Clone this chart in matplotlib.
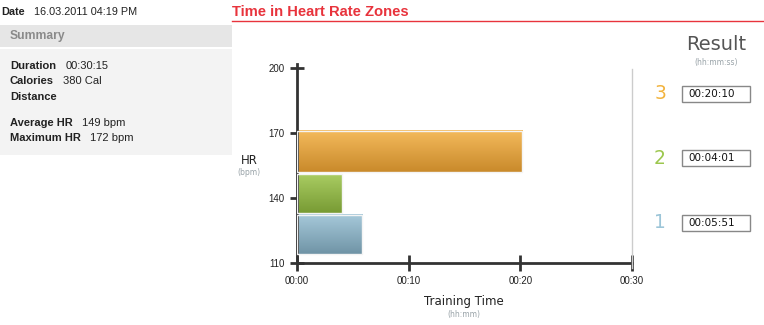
import matplotlib.pyplot as plt
import numpy as np
from matplotlib.patches import Rectangle

# workout summary
session_date = "16.03.2011 04:19 PM"
summary_rows = [("Duration", "00:30:15"), ("Calories", "380 Cal"), ("Distance", "")]
hr_rows = [("Average HR", "149 bpm"), ("Maximum HR", "172 bpm")]

# heart rate zones (bpm bands) and time spent in each
zones = ["1", "2", "3"]
zone_low = [114, 133, 152]
zone_high = [132, 151, 171]
zone_seconds = [351, 241, 1210]
zone_top = ["#a6c9da", "#a9cc62", "#f4ba5c"]
zone_bottom = ["#7094a6", "#789b34", "#c98a2b"]
zone_digit = ["#9cc5d8", "#9cc74e", "#f2b33d"]

y_ticks = [110, 140, 170, 200]
x_ticks_min = [0, 10, 20, 30]

W, H = 764, 325
fig = plt.figure(figsize=(W / 100, H / 100), dpi=100)
fig.patch.set_facecolor("white")


def fx(px):
    return px / W


def fy(py):
    return 1 - py / H


sans = "Liberation Sans"
dark = "#222222"

# left summary panel
fig.patches.append(Rectangle((0, fy(47)), fx(232), (47 - 25) / H, transform=fig.transFigure,
                             facecolor="#e6e6e6", edgecolor="none"))
fig.patches.append(Rectangle((0, fy(155)), fx(232), (155 - 49) / H, transform=fig.transFigure,
                             facecolor="#f3f3f3", edgecolor="none"))
fig.text(fx(1), fy(12), "Date", family=sans, weight="bold", fontsize=7.8, color=dark, va="center")
fig.text(fx(34), fy(12), session_date, family=sans, fontsize=7.8, color=dark, va="center")
fig.text(fx(10), fy(36), "Summary", family=sans, weight="bold", fontsize=8.7, color="#8a8a8a", va="center")

for i, (k, v) in enumerate(summary_rows):
    y = fy(66 + i * 15.3)
    fig.text(fx(10), y, k, family=sans, weight="bold", fontsize=8, color=dark, va="center")
    if v:
        off = 66 if k == "Duration" else 63
        fig.text(fx(off), y, v, family=sans, fontsize=8, color=dark, va="center")
hr_off = [82, 90]
for i, (k, v) in enumerate(hr_rows):
    y = fy(123 + i * 15)
    fig.text(fx(10), y, k, family=sans, weight="bold", fontsize=8, color=dark, va="center")
    fig.text(fx(hr_off[i]), y, v, family=sans, fontsize=8, color=dark, va="center")

# title with underline
fig.text(fx(232), fy(12), "Time in Heart Rate Zones", family=sans, weight="bold",
         fontsize=10.6, color="#e8333c", va="center")
fig.lines.append(plt.Line2D([fx(232), 1], [fy(21), fy(21)], transform=fig.transFigure,
                            color="#e8333c", lw=1))

# chart area
ax = fig.add_axes([fx(297), fy(263), fx(632) - fx(297), (263 - 68) / H])
minutes = np.array(zone_seconds) / 60.0
grad = np.linspace(0, 1, 64).reshape(-1, 1)
for i in range(len(zones)):
    c0 = np.array(plt.matplotlib.colors.to_rgb(zone_top[i]))
    c1 = np.array(plt.matplotlib.colors.to_rgb(zone_bottom[i]))
    img = (c0[None, None, :] * (1 - grad[:, :, None]) + c1[None, None, :] * grad[:, :, None])
    ax.imshow(img, extent=[0, minutes[i], zone_low[i], zone_high[i]], origin="upper",
              aspect="auto", zorder=2)
    ax.add_patch(Rectangle((0, zone_low[i]), minutes[i], zone_high[i] - zone_low[i],
                           facecolor="none", edgecolor="#f4f4f4", lw=1, zorder=3))
ax.set_xlim(0, 30)
ax.set_ylim(110, 200)

for s in ["top", "right"]:
    ax.spines[s].set_visible(False)
ax.spines["left"].set_color("#333333")
ax.spines["bottom"].set_color("#333333")
ax.spines["left"].set_linewidth(2)
ax.spines["bottom"].set_linewidth(2)
ax.spines["left"].set_bounds(110, 202)
ax.set_yticks(y_ticks)
ax.set_yticklabels([str(t) for t in y_ticks], family=sans, fontsize=7, color=dark)
ax.set_xticks(x_ticks_min)
ax.set_xticklabels([f"00:{m:02d}" for m in x_ticks_min], family=sans, fontsize=7, color=dark)
ax.tick_params(axis="y", direction="inout", length=10, width=2, color="#333333", pad=4)
ax.tick_params(axis="x", direction="inout", length=12, width=2, color="#333333", pad=3)
ax.patch.set_alpha(0)

fig.text(fx(249), fy(160), "HR", fontsize=8.5, color=dark, ha="center", va="center")
fig.text(fx(249), fy(173), "(bpm)", fontsize=5.5, color="#99a3a8", ha="center", va="center")
fig.text(fx(464), fy(302), "Training Time", fontsize=8.5, color=dark, ha="center", va="center")
fig.text(fx(464), fy(315), "(hh:mm)", fontsize=5.5, color="#99a3a8", ha="center", va="center")

# separator and result column
fig.lines.append(plt.Line2D([fx(632), fx(632)], [fy(69), fy(268)], transform=fig.transFigure,
                            color="#cccccc", lw=1))
fig.text(fx(716), fy(44), "Result", fontsize=14, color="#555555", ha="center", va="center")
fig.text(fx(716), fy(62), "(hh:mm:ss)", fontsize=5.5, color="#99a3a8", ha="center", va="center")

row_y = {"3": 94, "2": 158, "1": 223}
for i, z in enumerate(zones):
    y = row_y[z]
    s = zone_seconds[i]
    label = f"{s // 3600:02d}:{(s % 3600) // 60:02d}:{s % 60:02d}"
    fig.text(fx(660), fy(y), z, fontsize=13.5, color=zone_digit[i], ha="center", va="center")
    fig.patches.append(Rectangle((fx(682), fy(y + 8)), fx(68), 16 / H, transform=fig.transFigure,
                                 facecolor="white", edgecolor="#888888", lw=1))
    fig.text(fx(688), fy(y), label, fontsize=7.5, color="#111111", va="center")

fig.savefig("out.png", dpi=100)
